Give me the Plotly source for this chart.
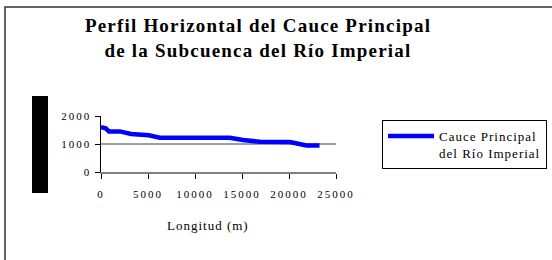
import plotly.graph_objects as go

# Data
longitud = [0, 500, 850, 2000, 3200, 5100, 6250, 13700, 15100, 16900, 20100, 21000, 21850, 23250]
cota = [1600, 1560, 1450, 1450, 1360, 1310, 1225, 1225, 1140, 1080, 1070, 995, 950, 950]
x_ticks = [0, 5000, 10000, 15000, 20000, 25000]
y_ticks = [0, 1000, 2000]

serie = "Cauce Principal<br>del Río Imperial"
titulo = "Perfil Horizontal del Cauce Principal<br>de la Subcuenca del Río Imperial"
x_titulo = "Longitud (m)"

W, H = 552, 260
L, R, T, B = 101, 216, 116, 88
pw, ph = W - L - R, H - T - B


def px_x(p):
    return (p - L) / pw


def px_y(p):
    return (H - B - p) / ph


FONT = "Liberation Serif, Times New Roman, serif"

fig = go.Figure()
fig.add_trace(go.Scatter(
    x=longitud, y=cota, mode="lines", name=serie,
    line=dict(color="#0000ff", width=4.5),
))

fig.update_layout(
    width=W, height=H,
    margin=dict(l=L, r=R, t=T, b=B, autoexpand=False),
    paper_bgcolor="white", plot_bgcolor="white",
    font=dict(family=FONT, size=13, color="black"),
    title=dict(
        text=titulo, x=258 / W, xanchor="center", xref="container",
        y=1 - 32 / H, yanchor="middle", yref="container",
        font=dict(family=FONT, size=19, color="black", weight="bold"),
    ),
    showlegend=True,
    legend=dict(
        x=px_x(382), y=px_y(120), xanchor="left", yanchor="top",
        bordercolor="black", borderwidth=1, bgcolor="white",
        font=dict(family=FONT, size=13, color="black"),
        valign="top", tracegroupgap=0, itemwidth=46,
    ),
)

fig.update_xaxes(
    range=[0, 25000], tickvals=x_ticks, ticktext=[str(v) for v in x_ticks],
    showline=True, linecolor="#808080", linewidth=1.5,
    ticks="outside", ticklen=5, tickcolor="black", tickwidth=1,
    showgrid=False, zeroline=False, ticklabelstandoff=6,
    tickfont=dict(family=FONT, size=11, color="black"),
)
fig.update_yaxes(
    range=[0, 2000], tickvals=y_ticks, ticktext=[str(v) for v in y_ticks],
    showline=True, linecolor="black", linewidth=1.5,
    ticks="outside", ticklen=5, tickcolor="black", tickwidth=1,
    showgrid=False, zeroline=False, ticklabelstandoff=1,
    tickfont=dict(family=FONT, size=11, color="black"),
)

# Gridline at 1000
fig.add_shape(type="line", xref="paper", yref="y", x0=0, x1=1, y0=1000, y1=1000,
              line=dict(color="#808080", width=1.5), layer="below")

# Y-axis title block (rendered as a black bar in the reference)
fig.add_shape(type="rect", xref="paper", yref="paper",
              x0=px_x(32), x1=px_x(48), y0=px_y(193), y1=px_y(96),
              fillcolor="black", line=dict(width=0))

# Outer chart border (left and top visible)
fig.add_shape(type="rect", xref="paper", yref="paper",
              x0=px_x(5), x1=px_x(W + 10), y0=px_y(H + 10), y1=px_y(7),
              line=dict(color="#333333", width=1.5), fillcolor="rgba(0,0,0,0)")

fig.add_annotation(text=x_titulo, xref="paper", yref="paper",
                   x=px_x(208), y=px_y(225), xanchor="center", yanchor="middle",
                   showarrow=False, font=dict(family=FONT, size=13, color="black"))

# Spaced-out lettering like the reference; legend font re-applied so the
# legend box is measured with the spacing.
post = """
document.body.style.margin='0';
document.body.style.overflow='hidden';
var st=document.createElement('style');
st.textContent='text.gtitle{letter-spacing:1.2px}'+
 'g.xtick>text,g.ytick>text{letter-spacing:2px}'+
 'text.legendtext{letter-spacing:1.0px}'+
 'text.annotation-text{letter-spacing:1px}';
document.head.appendChild(st);
var gd=document.getElementById('{plot_id}');
Plotly.relayout(gd,{'legend.font.family':'Liberation Serif, serif'});
"""

fig.write_html(
    "out.html",
    config={"displayModeBar": False, "staticPlot": True},
    post_script=post,
)
